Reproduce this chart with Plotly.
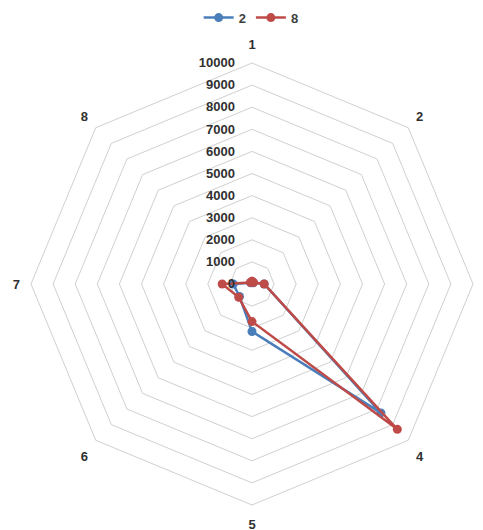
import plotly.graph_objects as go

categories = ["1", "2", "3", "4", "5", "6", "7", "8"]
series_2 = [80, 80, 550, 8250, 2150, 800, 850, 80]
series_8 = [120, 100, 550, 9300, 1700, 850, 1350, 100]
radial_ticks = [0, 1000, 2000, 3000, 4000, 5000, 6000, 7000, 8000, 9000, 10000]

def closed(v):
    return v + v[:1]

fig = go.Figure()
fig.add_trace(go.Scatterpolar(
    r=closed(series_2), theta=closed(categories), name="2",
    mode="lines+markers",
    line=dict(color="#4A7EBB", width=2.5),
    marker=dict(color="#4A7EBB", size=9),
))
fig.add_trace(go.Scatterpolar(
    r=closed(series_8), theta=closed(categories), name="8",
    mode="lines+markers",
    line=dict(color="#BE4B48", width=2.5),
    marker=dict(color="#BE4B48", size=9),
))

fig.update_layout(
    width=483, height=530,
    margin=dict(l=31, r=10, t=63, b=25, autoexpand=False),
    paper_bgcolor="white",
    font=dict(family="Liberation Sans, Arial", size=12, color="#404040"),
    showlegend=True,
    legend=dict(orientation="h", x=0.52, xanchor="center", xref="container",
                y=0.995, yanchor="top", yref="container",
                font=dict(size=13, color="#404040", weight="bold"), itemwidth=30),
    polar=dict(
        bgcolor="white",
        gridshape="linear",
        domain=dict(x=[0, 1], y=[0, 1]),
        angularaxis=dict(
            categoryorder="array", categoryarray=categories,
            rotation=90, direction="clockwise",
            showgrid=False, showline=True, linecolor="#D0D0D0", linewidth=1,
            ticks="outside", ticklen=8, tickcolor="rgba(0,0,0,0)",
            tickfont=dict(size=13, color="#303030", weight="bold"),
        ),
        radialaxis=dict(
            range=[0, 10000], tickvals=radial_ticks,
            ticktext=[str(t) for t in radial_ticks],
            angle=90, side="counterclockwise", tickangle=90,
            showline=False, ticks="outside", ticklen=12, tickcolor="rgba(0,0,0,0)",
            gridcolor="#D0D0D0", gridwidth=1,
            tickfont=dict(size=13, color="#303030", weight="bold"),
        ),
    ),
)

fig.write_html("out.html")
